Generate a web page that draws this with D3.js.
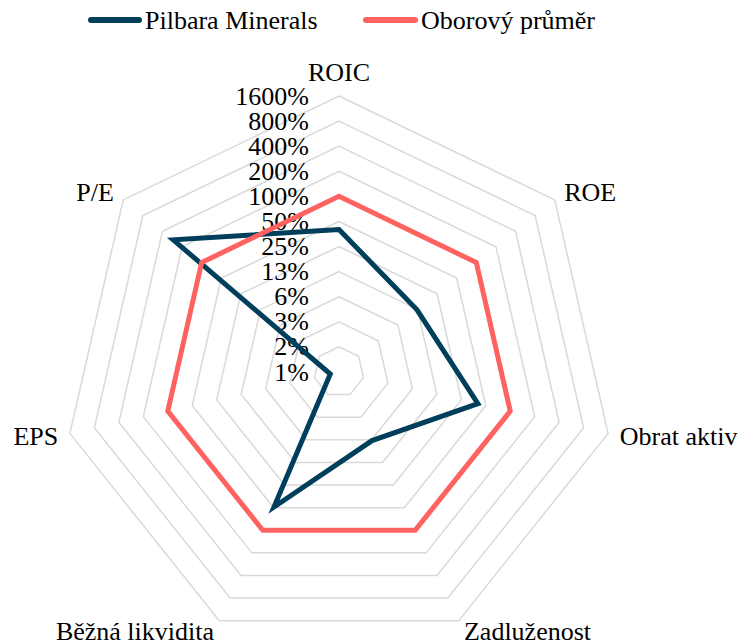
<!DOCTYPE html>
<html>
<head>
<meta charset="utf-8">
<script src="https://cdn.jsdelivr.net/npm/d3@7"></script>
<style>
  html, body { margin: 0; padding: 0; background: #fff; }
  svg { display: block; }
  text { font-family: "Liberation Serif", "Times New Roman", "DejaVu Serif", serif; fill: #000; }
</style>
</head>
<body>
<svg id="chart" width="739" height="644"></svg>
<script>
// ---- data ----
const categories = ["ROIC", "ROE", "Obrat aktiv", "Zadluženost", "Běžná likvidita", "EPS", "P/E"];
const seriesNames = ["Pilbara Minerals", "Oborový průměr"];
const pilbaraValues = [40, 12.3, 40, 6.4, 49, 1, 273];
const industryValues = [100, 100, 100, 100, 100, 100, 100];
const tickValues = [0.78125, 1.5625, 3.125, 6.25, 12.5, 25, 50, 100, 200, 400, 800, 1600];
const tickLabels = ["1%", "2%", "3%", "6%", "13%", "25%", "50%", "100%", "200%", "400%", "800%", "1600%"];
const colors = ["#003f5c", "#ff6361"];

// ---- layout ----
const W = 739, H = 644;
const cx = 339, cy = 372, R = 276;
const fontSize = 26;

const svg = d3.select("#chart");

const r = d3.scaleLog().base(2).domain([tickValues[0], tickValues[tickValues.length - 1]]).range([0, R]);
const angle = d3.scalePoint().domain(categories).range([0, 2 * Math.PI * (categories.length - 1) / categories.length]);

const pt = (cat, rad) => {
  const a = angle(cat);
  return [cx + rad * Math.sin(a), cy - rad * Math.cos(a)];
};

const g = svg.append("g");

// grid rings
const ringLine = d3.line().curve(d3.curveLinearClosed);
g.append("g").selectAll("path")
  .data(tickValues.slice(1))
  .join("path")
  .attr("d", v => ringLine(categories.map(c => pt(c, r(v)))))
  .attr("fill", "none")
  .attr("stroke", "#d9d9d9")
  .attr("stroke-width", 1.5);

// tick labels
g.append("g").selectAll("text")
  .data(tickValues)
  .join("text")
  .attr("x", cx - 30)
  .attr("y", v => cy - r(v))
  .attr("dy", "0.33em")
  .attr("text-anchor", "end")
  .attr("font-size", fontSize)
  .text((v, i) => tickLabels[i]);

// series
const series = [pilbaraValues, industryValues];
const seriesLine = d3.line().curve(d3.curveLinearClosed);
g.append("g").selectAll("path")
  .data(series)
  .join("path")
  .attr("d", vals => seriesLine(categories.map((c, i) => pt(c, r(Math.max(vals[i], tickValues[0]))))))
  .attr("fill", "none")
  .attr("stroke", (d, i) => colors[i])
  .attr("stroke-width", 5)
  .attr("stroke-linejoin", "miter");

// axis labels
g.append("g").selectAll("text")
  .data(categories)
  .join("text")
  .each(function(c) {
    const a = angle(c);
    const s = Math.sin(a), co = Math.cos(a);
    const d = co > 0.95 ? 24 : 12;
    const x = cx + (R + d) * s, y = cy - (R + d) * co;
    d3.select(this)
      .attr("x", x)
      .attr("y", y)
      .attr("dy", "0.33em")
      .attr("text-anchor", Math.abs(s) < 0.1 ? "middle" : (s > 0 ? "start" : "end"));
  })
  .attr("font-size", fontSize)
  .text(c => c);

// legend
const legend = svg.append("g");
const legendItems = [{x: 88, w: 54}, {x: 363, w: 55}];
seriesNames.forEach((name, i) => {
  const it = legendItems[i];
  legend.append("line")
    .attr("x1", it.x + 3).attr("x2", it.x + it.w - 3)
    .attr("y1", 20).attr("y2", 20)
    .attr("stroke", colors[i]).attr("stroke-width", 6)
    .attr("stroke-linecap", "round");
  legend.append("text")
    .attr("x", it.x + it.w + 3)
    .attr("y", 20)
    .attr("dy", "0.33em")
    .attr("font-size", fontSize)
    .text(name);
});
</script>
</body>
</html>
